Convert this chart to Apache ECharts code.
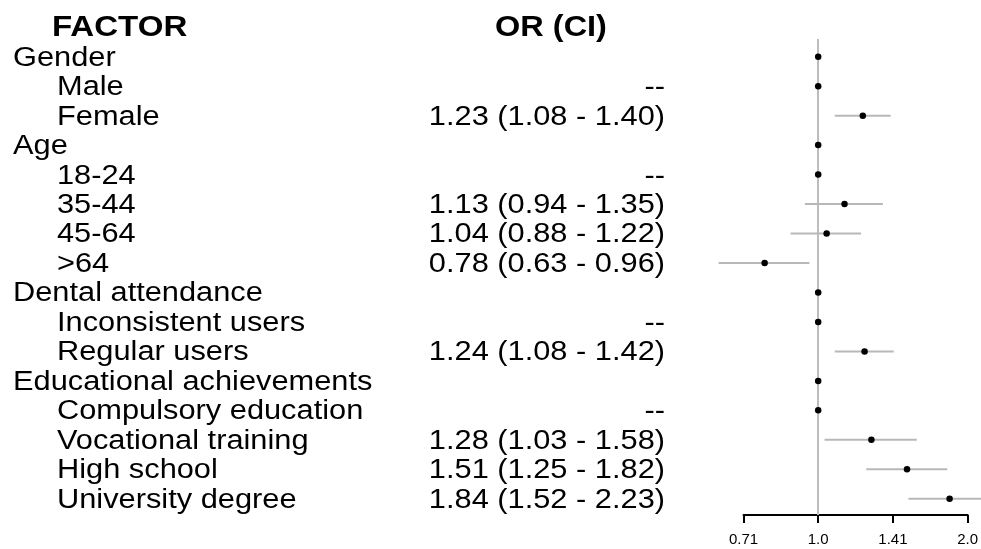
<!DOCTYPE html>
<html>
<head>
<meta charset="utf-8">
<script src="https://cdn.jsdelivr.net/npm/echarts@6/dist/echarts.min.js"></script>
<style>html,body{margin:0;padding:0;background:#fff;}#main{width:981px;height:549px;}</style>
</head>
<body>
<div id="main"></div>
<script>
const factors = ["Gender","Male","Female","Age","18-24","35-44","45-64",">64","Dental attendance","Inconsistent users","Regular users","Educational achievements","Compulsory education","Vocational training","High school","University degree"];
const isGroup = [true,false,false,true,false,false,false,false,true,false,false,true,false,false,false,false];
const orVals = [1,1,1.23,1,1,1.13,1.04,0.78,1,1,1.24,1,1,1.28,1.51,1.84];
const ciLow  = [null,null,1.08,null,null,0.94,0.88,0.63,null,null,1.08,null,null,1.03,1.25,1.52];
const ciHigh = [null,null,1.40,null,null,1.35,1.22,0.96,null,null,1.42,null,null,1.58,1.82,2.23];
const orText = ["","--","1.23 (1.08 - 1.40)","","--","1.13 (0.94 - 1.35)","1.04 (0.88 - 1.22)","0.78 (0.63 - 0.96)","","--","1.24 (1.08 - 1.42)","","--","1.28 (1.03 - 1.58)","1.51 (1.25 - 1.82)","1.84 (1.52 - 2.23)"];
const headers = ["FACTOR","OR (CI)"];
const tickLabels = ["0.71","1.0","1.41","2.0"];

const FONT = "'Liberation Sans', Arial, sans-serif";
const chart = echarts.init(document.getElementById('main'), null, {renderer:'canvas'});

const pointData = orVals.map((v,i)=>[Math.log2(v), i]);
const ciData = [];
ciLow.forEach((lo,i)=>{ if(lo!==null) ciData.push([Math.log2(lo), Math.log2(ciHigh[i]), i]); });

chart.setOption({
  animation:false,
  backgroundColor:'#fff',
  grid:{left:743.5, right:10.5, top:39, bottom:34},
  xAxis:{type:'value', min:-0.5, max:1, interval:0.5,
    axisLine:{show:true, onZero:false, lineStyle:{color:'#000', width:2}},
    axisTick:{show:true, length:8, lineStyle:{color:'#000', width:2}},
    splitLine:{show:false},
    axisLabel:{fontFamily:FONT, fontSize:15, color:'#000', margin:17,
      formatter:(v)=>{const idx=Math.round((v+0.5)/0.5); return tickLabels[idx]||'';}}
  },
  yAxis:{type:'value', inverse:true, min:-0.6, max:15.55, show:false},
  series:[
    {type:'custom', clip:false, z:2,
      renderItem:function(params, api){
        const p1 = api.coord([api.value(0), api.value(2)]);
        const p2 = api.coord([api.value(1), api.value(2)]);
        return {type:'line', shape:{x1:p1[0], y1:p1[1], x2:p2[0], y2:p2[1]}, style:{stroke:'#b8b8b8', lineWidth:2}};
      },
      encode:{x:[0,1], y:2},
      data:ciData
    },
    {type:'scatter', clip:false, z:3, symbol:'circle', symbolSize:6.5,
      itemStyle:{color:'#000', opacity:1},
      data:pointData,
      markLine:{silent:true, symbol:['none','none'], label:{show:false}, z:1,
        lineStyle:{color:'#bdbdbd', width:2, type:'solid', opacity:1},
        data:[[{coord:[0,-0.6]},{coord:[0,15.55]}]]}
    }
  ]
});

const SX = 1.14;
const graphics = [];
function rowY(i){ return chart.convertToPixel({gridIndex:0}, [0, i])[1]; }
const hy = rowY(-1) + 1;
graphics.push({type:'text', x:52, y:hy, scaleX:1.14, style:{text:headers[0], font:'bold 29px '+FONT, fill:'#000', textAlign:'left', textVerticalAlign:'middle'}});
graphics.push({type:'text', x:551, y:hy, scaleX:1.12, style:{text:headers[1], font:'bold 29px '+FONT, fill:'#000', textAlign:'center', textVerticalAlign:'middle'}});
factors.forEach((f,i)=>{
  const y = rowY(i) + 1.5;
  graphics.push({type:'text', x:isGroup[i]?13:57, y:y, scaleX:SX, style:{text:f, font:'27px '+FONT, fill:'#000', textAlign:'left', textVerticalAlign:'middle'}});
  if(orText[i]) graphics.push({type:'text', x:665, y:y, scaleX:SX, style:{text:orText[i], font:'27px '+FONT, fill:'#000', textAlign:'right', textVerticalAlign:'middle'}});
});
chart.setOption({graphic:{elements:graphics}});
</script>
</body>
</html>
